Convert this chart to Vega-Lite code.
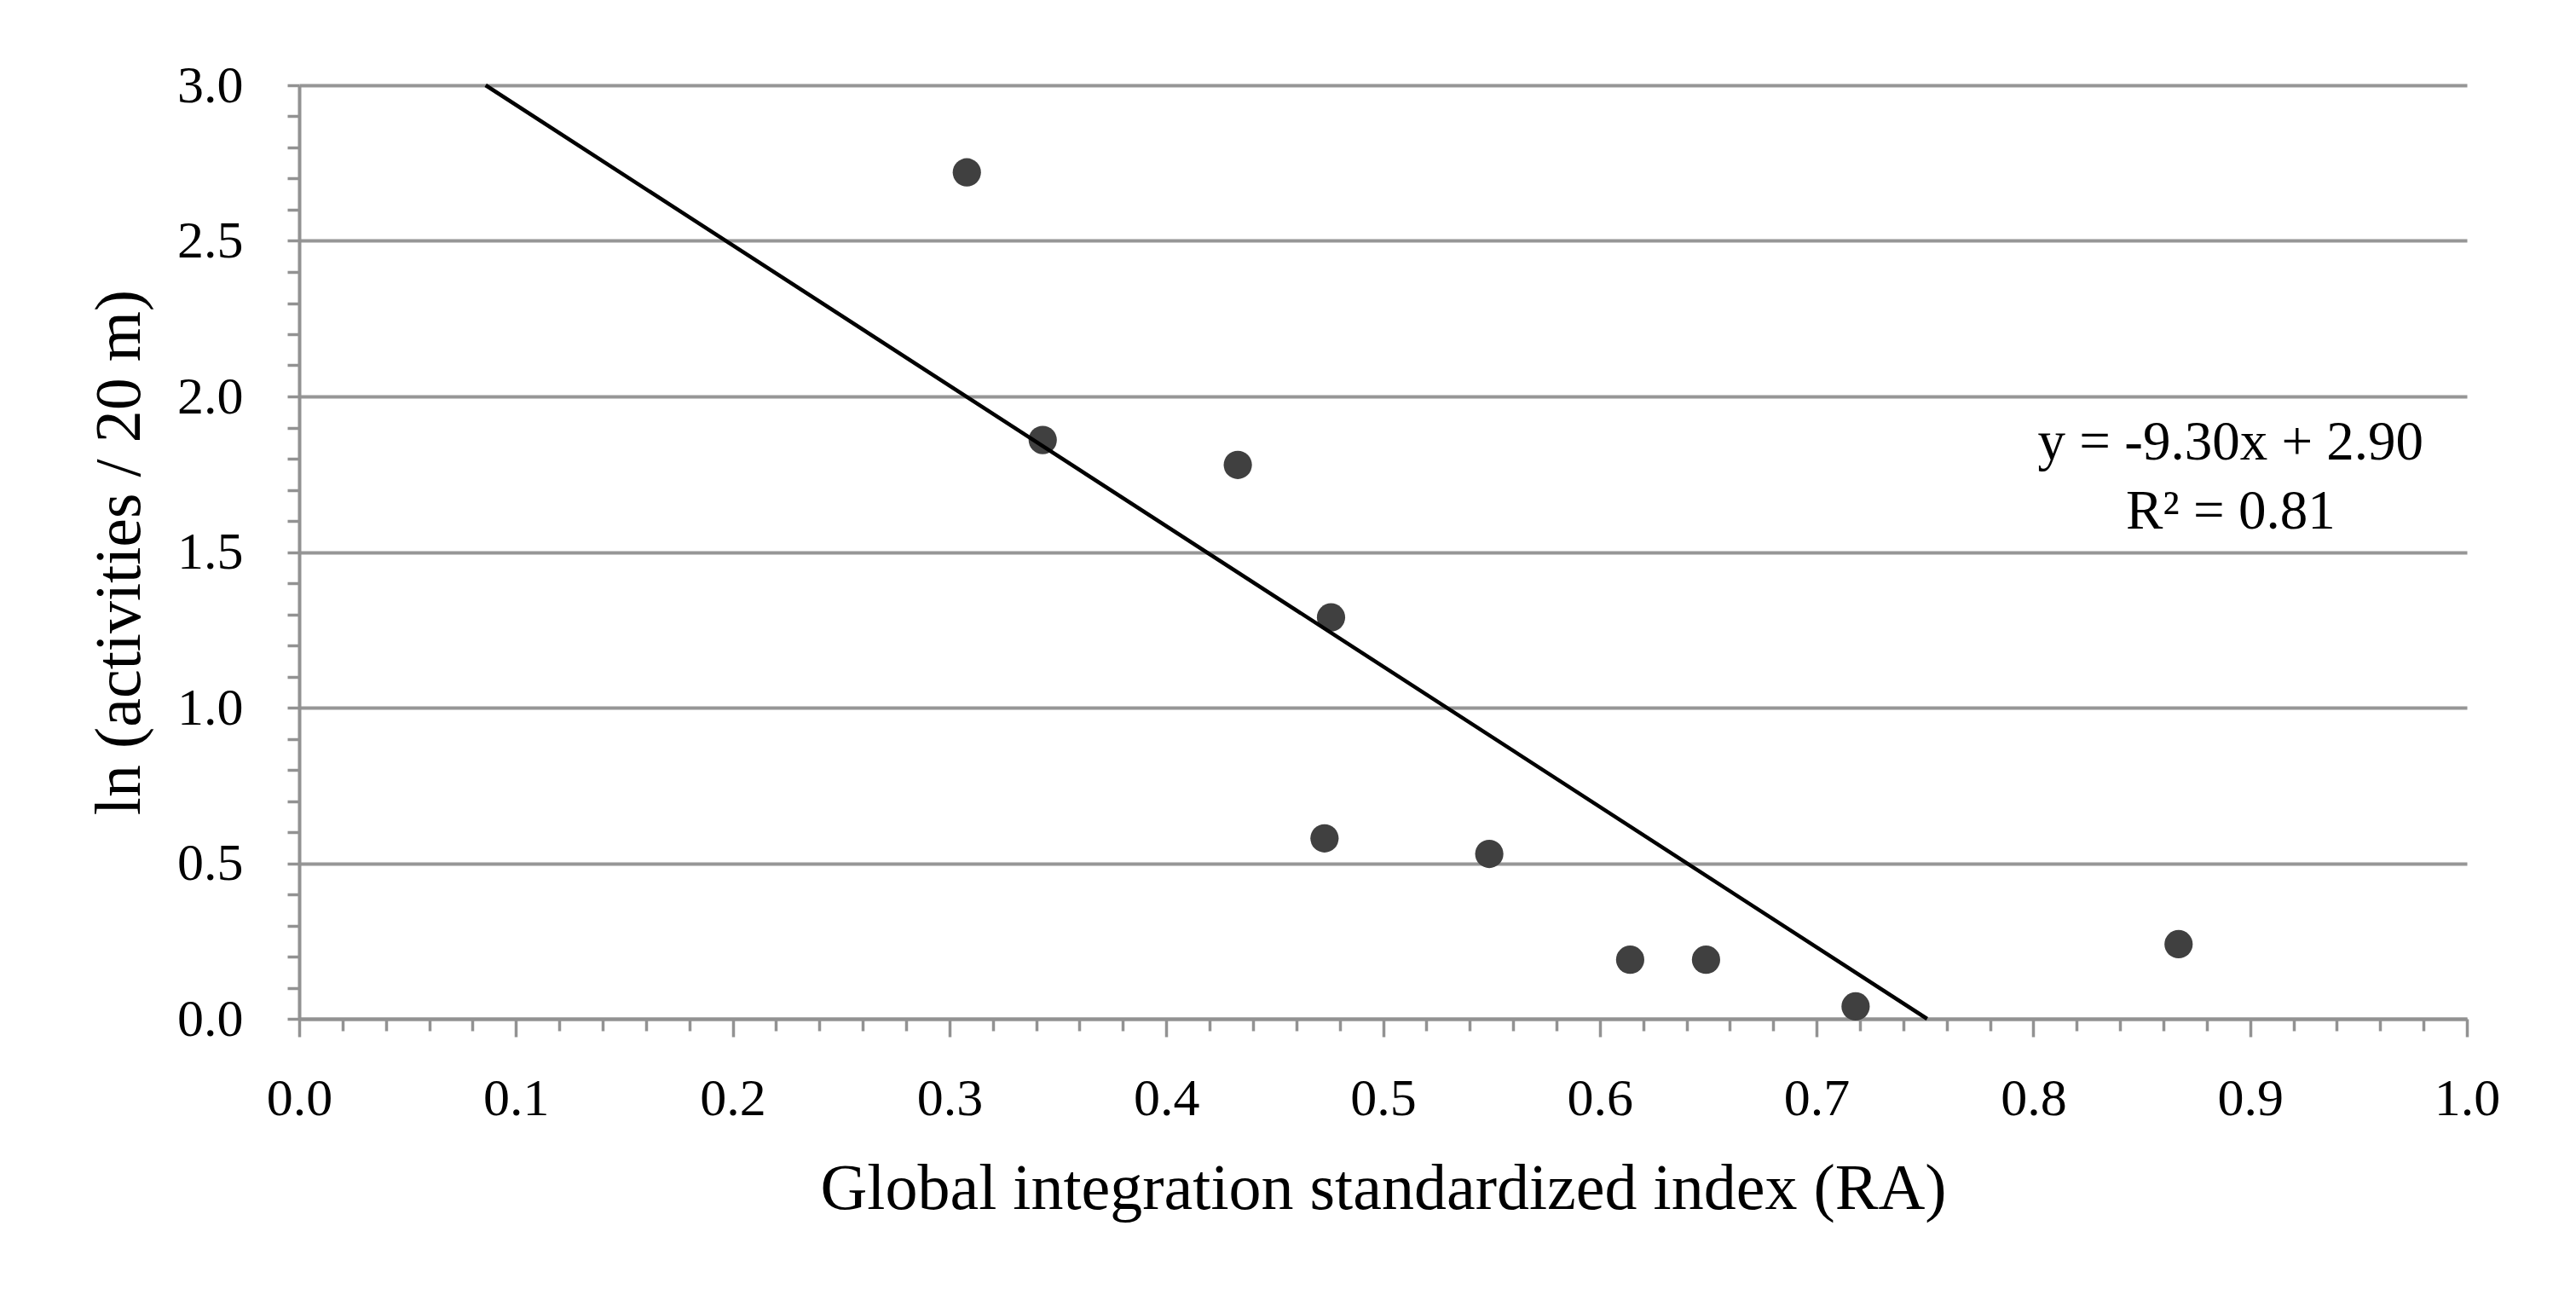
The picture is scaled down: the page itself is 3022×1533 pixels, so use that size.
{
  "$schema": "https://vega.github.io/schema/vega-lite/v6.json",
  "autosize": "none",
  "width": 2543,
  "height": 1095,
  "padding": {"left": 351, "top": 100, "right": 128, "bottom": 338},
  "background": "white",
  "config": {
    "view": {"stroke": null},
    "font": "Liberation Serif",
    "axis": {
      "labelFont": "Liberation Serif",
      "titleFont": "Liberation Serif",
      "labelColor": "black",
      "titleColor": "black",
      "titleFontWeight": "normal",
      "domainColor": "#929292",
      "domainWidth": 4,
      "tickColor": "#929292",
      "tickWidth": 3.5,
      "gridColor": "#969696",
      "gridWidth": 4,
      "labelFontSize": 62,
      "titleFontSize": 76,
      "labelOverlap": false
    }
  },
  "layer": [
    {
      "data": {"values": [
        {"RA": 0.308, "ln_act": 2.72},
        {"RA": 0.343, "ln_act": 1.86},
        {"RA": 0.433, "ln_act": 1.78},
        {"RA": 0.476, "ln_act": 1.29},
        {"RA": 0.473, "ln_act": 0.58},
        {"RA": 0.549, "ln_act": 0.53},
        {"RA": 0.614, "ln_act": 0.19},
        {"RA": 0.649, "ln_act": 0.19},
        {"RA": 0.718, "ln_act": 0.04},
        {"RA": 0.867, "ln_act": 0.24}
      ]},
      "mark": {"type": "circle", "size": 1100, "color": "#404040", "opacity": 1},
      "encoding": {
        "x": {
          "field": "RA", "type": "quantitative",
          "scale": {"domain": [0, 1], "nice": false, "zero": false},
          "axis": {
            "title": "Global integration standardized index (RA)",
            "values": [0,0.02,0.04,0.06,0.08,0.1,0.12,0.14,0.16,0.18,0.2,0.22,0.24,0.26,0.28,0.3,0.32,0.34,0.36,0.38,0.4,0.42,0.44,0.46,0.48,0.5,0.52,0.54,0.56,0.58,0.6,0.62,0.64,0.66,0.68,0.7,0.72,0.74,0.76,0.78,0.8,0.82,0.84,0.86,0.88,0.9,0.92,0.94,0.96,0.98,1],
            "labelExpr": "abs(datum.value*10 - round(datum.value*10)) < 0.01 ? format(datum.value, '.1f') : ''",
            "labelFontSize": {"condition": {"test": "abs(datum.value*10 - round(datum.value*10)) < 0.01", "value": 62}, "value": 0},
            "labelOverlap": false,
            "labelFlush": false,
            "labelBound": false,
            "tickSize": {"condition": {"test": "abs(datum.value*10 - round(datum.value*10)) < 0.01", "value": 21}, "value": 14},
            "labelPadding": 42,
            "titlePadding": 38,
            "grid": false
          }
        },
        "y": {
          "field": "ln_act", "type": "quantitative",
          "scale": {"domain": [0, 3], "nice": false, "zero": false},
          "axis": {
            "title": "ln (activities / 20 m)",
            "tickCount": 30,
            "labelExpr": "abs(datum.value*2 - round(datum.value*2)) < 0.01 ? format(datum.value, '.1f') : ''",
            "labelFontSize": {"condition": {"test": "abs(datum.value*2 - round(datum.value*2)) < 0.01", "value": 62}, "value": 0},
            "labelOverlap": false,
            "labelFlush": false,
            "labelBound": false,
            "grid": true,
            "gridOpacity": {"condition": {"test": "abs(datum.value*2 - round(datum.value*2)) < 0.01", "value": 1}, "value": 0},
            "tickSize": 14,
            "labelPadding": 52,
            "titlePadding": 28
          }
        }
      }
    },
    {
      "data": {"values": [
        {"RA": 0.086, "ln_act": 3.0},
        {"RA": 0.751, "ln_act": 0.0}
      ]},
      "mark": {"type": "line", "color": "black", "strokeWidth": 4.5},
      "encoding": {
        "x": {"field": "RA", "type": "quantitative"},
        "y": {"field": "ln_act", "type": "quantitative"}
      }
    },
    {
      "data": {"values": [
        {"label": "y = -9.30x + 2.90", "lx": 0.891, "ly": 1.796},
        {"label": "R² = 0.81", "lx": 0.891, "ly": 1.574}
      ]},
      "mark": {"type": "text", "font": "Liberation Serif", "fontSize": 65, "align": "center", "baseline": "alphabetic", "color": "black"},
      "encoding": {
        "x": {"field": "lx", "type": "quantitative"},
        "y": {"field": "ly", "type": "quantitative"},
        "text": {"field": "label"}
      }
    }
  ]
}
